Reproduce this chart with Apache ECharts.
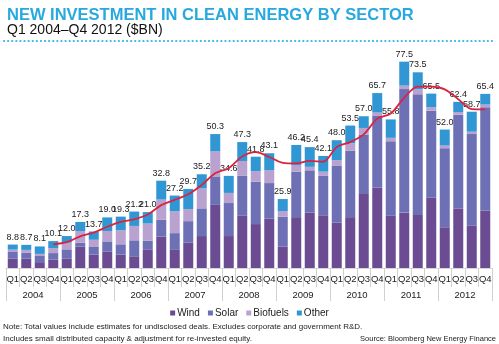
<!DOCTYPE html>
<html><head><meta charset="utf-8">
<script src="https://cdn.jsdelivr.net/npm/echarts@6/dist/echarts.min.js"></script>
<style>html,body{margin:0;padding:0;background:#fff}#c{width:499px;height:344px}</style>
</head><body><div id="c"></div>
<script>
var quarters = ['Q1','Q2','Q3','Q4','Q1','Q2','Q3','Q4','Q1','Q2','Q3','Q4','Q1','Q2','Q3','Q4','Q1','Q2','Q3','Q4','Q1','Q2','Q3','Q4','Q1','Q2','Q3','Q4','Q1','Q2','Q3','Q4','Q1','Q2','Q3','Q4'];
var years = ['2004','2005','2006','2007','2008','2009','2010','2011','2012'];
var totals = [8.8,8.7,8.1,10.1, 12.0,17.3,13.7,19.0, 19.3,21.2,21.0,32.8, 27.2,29.7,35.2,50.3, 34.6,47.3,41.8,43.1, 25.9,46.2,45.4,42.1, 48.0,53.5,57.0,65.7, 55.8,77.5,73.5,65.5, 52.0,62.4,58.7,65.4];
var wind = [3.6,3.5,2.2,3.2, 3.6,8.0,5.0,6.1, 5.0,4.4,7.0,11.8, 6.8,9.6,12.0,23.7, 12.0,19.6,16.5,18.6, 8.0,19.1,20.8,19.8, 17.1,19.1,27.8,30.2, 19.6,20.8,19.9,26.5, 15.3,22.4,15.9,21.6];
var solar = [2.4,2.3,2.3,2.4, 3.4,1.5,3.1,3.9, 3.9,6.0,3.3,6.3, 6.3,8.0,10.4,10.7, 12.4,15.0,15.9,13.3, 11.3,17.1,15.9,14.8, 21.4,25.0,22.3,26.9, 28.0,46.4,45.4,32.6, 29.7,35.2,34.4,38.8];
var biofuels = [0.9,1.0,0.8,1.9, 2.5,4.4,2.5,3.9, 5.3,5.4,6.4,7.6, 8.2,4.5,7.5,9.4, 3.8,5.6,4.0,4.8, 2.1,2.5,1.3,1.6, 2.0,2.8,2.5,1.3, 1.3,1.3,1.9,1.3, 1.0,1.0,0.9,1.0];
var other = [1.9,1.9,2.8,2.6, 2.5,3.4,3.1,5.1, 5.1,5.4,4.3,7.1, 5.9,7.6,5.3,6.5, 6.4,7.1,5.4,6.4, 4.5,7.5,7.4,5.9, 7.5,6.6,4.4,7.3, 6.9,9.0,6.3,5.1, 6.0,3.8,7.5,4.0];
// four-quarter moving average of the totals, as drawn by the red line
var movingAvg = [null,null,null,8.9, 9.7,11.9,13.3,15.5, 17.3,18.3,20.1,23.6, 25.6,27.7,31.2,35.6, 37.5,41.9,43.5,41.7, 39.5,39.3,40.2,39.9, 45.4,47.3,50.2,56.1, 58.0,64.0,68.1,68.1, 67.1,63.4,59.7,59.6];

var chart = echarts.init(document.getElementById('c'));
var FONT = '"Liberation Sans", Arial, sans-serif';
var colors = {wind:'#6b4c92', solar:'#6e70b6', bio:'#b9a2cf', other:'#3196d4'};
function barSeries(name, data, color, withLabel) {
  var s = {name:name, type:'bar', stack:'t', data:data, barWidth:10,
    itemStyle:{color:color}, xAxisIndex:0, yAxisIndex:0};
  if (withLabel) {
    s.label = {show:true, position:'top', distance:3, fontSize:9, fontFamily:FONT, color:'#222',
      formatter:function(p){return totals[p.dataIndex].toFixed(1);}};
  }
  return s;
}
chart.setOption({
  animation:false,
  textStyle:{fontFamily:FONT},
  title:[
    {text:'NEW INVESTMENT IN CLEAN ENERGY BY SECTOR', left:2, top:2,
     textStyle:{fontSize:16.5, fontWeight:'bold', color:'#27a9df', fontFamily:FONT}},
    {text:'Q1 2004\u2013Q4 2012 ($BN)', left:2, top:18,
     textStyle:{fontSize:14, fontWeight:'normal', color:'#111', fontFamily:FONT}}
  ],
  graphic:[
    {type:'line', shape:{x1:4, y1:41, x2:496, y2:41},
     style:{stroke:'#3cb6e3', lineWidth:2.2, lineDash:[0.1,4], lineCap:'round'}},
    {type:'text', left:3, top:323, style:{text:'Note: Total values include estimates for undisclosed deals. Excludes corporate and government R&D.', fontSize:8, fill:'#222', fontFamily:FONT}},
    {type:'text', left:3, top:335, style:{text:'Includes small distributed capacity & adjustment for re-invested equity.', fontSize:8, fill:'#222', fontFamily:FONT}},
    {type:'text', right:3, top:335, style:{text:'Source: Bloomberg New Energy Finance', fontSize:7.5, fill:'#222', fontFamily:FONT}}
  ],
  legend:{data:['Wind','Solar','Biofuels','Other'], top:303, left:'center', icon:'rect',
    itemWidth:5, itemHeight:5, itemGap:8, textStyle:{fontSize:10, color:'#222', padding:[0,0,0,-3]}},
  grid:{left:6, right:7, top:55, bottom:76},
  xAxis:[
    {type:'category', data:quarters, position:'bottom',
     axisLine:{show:true, lineStyle:{color:'#d8d8d8', width:1}},
     axisTick:{show:true, interval:0, length:19, lineStyle:{color:'#d0d0d0'}},
     axisLabel:{interval:0, margin:6, fontSize:9.5, color:'#222'}},
    {type:'category', data:years, position:'bottom', offset:19,
     axisLine:{show:false},
     axisTick:{show:true, interval:0, length:14, lineStyle:{color:'#d0d0d0'}},
     axisLabel:{interval:0, margin:3, fontSize:9.5, color:'#222'}}
  ],
  yAxis:{type:'value', min:0, max:80, show:false, splitLine:{show:false}},
  series:[
    barSeries('Wind', wind, colors.wind),
    barSeries('Solar', solar, colors.solar),
    barSeries('Biofuels', biofuels, colors.bio),
    barSeries('Other', other, colors.other, true),
    {name:'MA', type:'line', data:movingAvg, smooth:0.3, showSymbol:false, symbol:'none',
     lineStyle:{color:'#d9243f', width:1.8}, z:5, connectNulls:false}
  ]
});
</script></body></html>
